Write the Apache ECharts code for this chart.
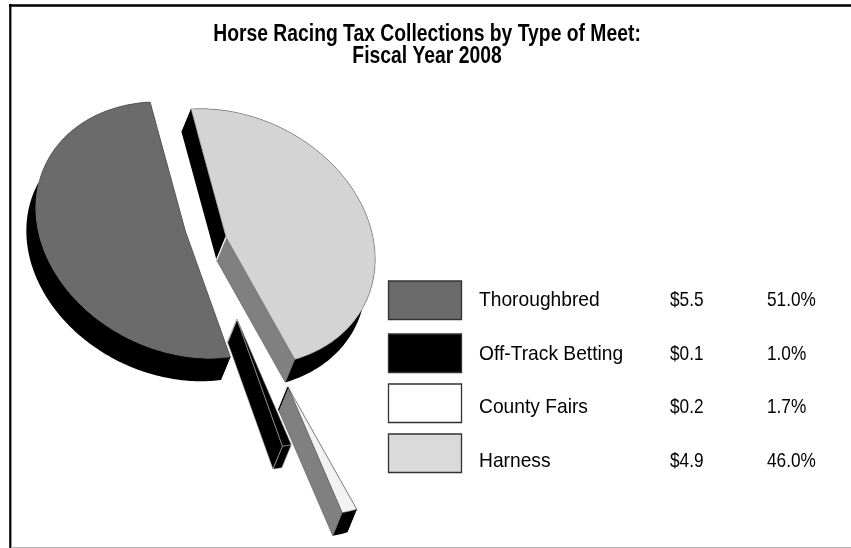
<!DOCTYPE html>
<html>
<head>
<meta charset="utf-8">
<style>html,body{margin:0;padding:0;background:#fff}#chart{width:851px;height:548px}</style>
<script src="https://cdn.jsdelivr.net/npm/echarts@6/dist/echarts.min.js"></script>
</head>
<body>
<div id="chart"></div>
<script>
var titleText = 'Horse Racing Tax Collections by Type of Meet:\nFiscal Year 2008';
var categories = ['Thoroughbred', 'Off-Track Betting', 'County Fairs', 'Harness'];
var amounts = ['$5.5', '$0.1', '$0.2', '$4.9'];
var shares = [51.0, 1.0, 1.7, 46.0];
var shareLabels = ['51.0%', '1.0%', '1.7%', '46.0%'];

// look of the slices, same order as categories
var topColors = ['#6b6b6b', '#000000', '#f2f2f2', '#d4d4d4'];
var cutColors = ['#000000', '#000000', '#808080', '#808080'];
var lineColors = ['#555555', '#bbbbbb', '#555555', '#777777'];
var apexEdgeColors = [null, '#bbbbbb', '#000000', '#ffffff'];
var swatchColors = ['#6b6b6b', '#000000', '#ffffff', '#dadada'];
var apexes = [[185, 230], [237, 319], [288, 387], [226, 237]];
var swatchTops = [281, 334, 384, 434];
var textRows = [300.7, 354.2, 407.7, 461.2];

// tilted disc of the pie, pixels
var axisU = [-35, -128];
var axisV = [145, -8];
var depth = [-9.5, 23];
var FONT = '"Liberation Sans", Arial, sans-serif';

var total = shares.reduce(function (a, b) { return a + b; }, 0);

function rimPoint(apex, deg) {
	var r = deg * Math.PI / 180;
	return [
		apex[0] + axisU[0] * Math.cos(r) + axisV[0] * Math.sin(r),
		apex[1] + axisU[1] * Math.cos(r) + axisV[1] * Math.sin(r)
	];
}
function shift(p) {
	return [p[0] + depth[0], p[1] + depth[1]];
}
function poly(points, fill, stroke) {
	return {
		type: 'polygon',
		shape: { points: points },
		style: { fill: fill, stroke: stroke || fill, lineWidth: stroke ? 0.6 : 0 }
	};
}

function renderSlice(params, api) {
	var i = params.dataIndex;
	var end = 360;
	for (var k = 0; k < i; k++) end -= shares[k] / total * 360;
	var start = end - api.value(1) / total * 360;
	var apex = apexes[i];
	var low = shift(apex);

	var arc = [];
	var steps = Math.max(6, Math.round(end - start));
	for (var s = 0; s <= steps; s++) arc.push(rimPoint(apex, start + (end - start) * s / steps));
	var lowArc = arc.map(shift).reverse();
	var first = arc[0], last = arc[arc.length - 1];

	// i==0 keeps its cut faces hidden under the top face
	var children = [];
	children.push(poly([apex, low, shift(first), first], '#000000'));
	children.push(poly(arc.concat(lowArc), '#000000', i === 1 ? lineColors[i] : null));
	children.push(poly([apex, low, shift(last), last], cutColors[i], i === 1 ? lineColors[i] : '#555555'));
	children.push(poly([apex].concat(arc), topColors[i], lineColors[i]));
	if (apexEdgeColors[i]) {
		children.push({
			type: 'line',
			shape: { x1: apex[0], y1: apex[1], x2: low[0], y2: low[1] },
			style: { stroke: apexEdgeColors[i], lineWidth: 1.2 }
		});
	}
	return { type: 'group', children: children };
}

var graphics = [
	{ type: 'line', shape: { x1: 9, y1: 5.5, x2: 851, y2: 5.5 }, style: { stroke: '#000', lineWidth: 2.5 } },
	{ type: 'line', shape: { x1: 10.3, y1: 4, x2: 10.3, y2: 548 }, style: { stroke: '#000', lineWidth: 2.2 } },
	{ type: 'line', shape: { x1: 11, y1: 547.5, x2: 851, y2: 547.5 }, style: { stroke: '#b5b5b5', lineWidth: 1 } },
	{
		type: 'text',
		x: 427,
		y: 46,
		scaleX: 0.84,
		style: {
			text: titleText, font: 'bold 23px ' + FONT, fill: '#000',
			align: 'center', verticalAlign: 'middle', lineHeight: 22
		}
	}
];
categories.forEach(function (name, i) {
	graphics.push({
		type: 'rect',
		shape: { x: 388.5, y: swatchTops[i], width: 73, height: 38.5 },
		style: { fill: swatchColors[i], stroke: '#333333', lineWidth: 1.3 }
	});
	[[name, 479, 0.915], [amounts[i], 670, 0.82], [shareLabels[i], 767, 0.82]].forEach(function (cell) {
		graphics.push({
			type: 'text',
			x: cell[1],
			y: textRows[i],
			scaleX: cell[2],
			style: { text: cell[0], font: '21px ' + FONT, fill: '#000', verticalAlign: 'middle' }
		});
	});
});

var myChart = echarts.init(document.getElementById('chart'));
var option = {
	animation: false,
	backgroundColor: '#ffffff',
	graphic: graphics,
	series: [{
		type: 'custom',
		coordinateSystem: 'none',
		renderItem: renderSlice,
		data: categories.map(function (name, i) { return { name: name, value: [i, shares[i]] }; })
	}]
};
myChart.setOption(option);
</script>
</body>
</html>
